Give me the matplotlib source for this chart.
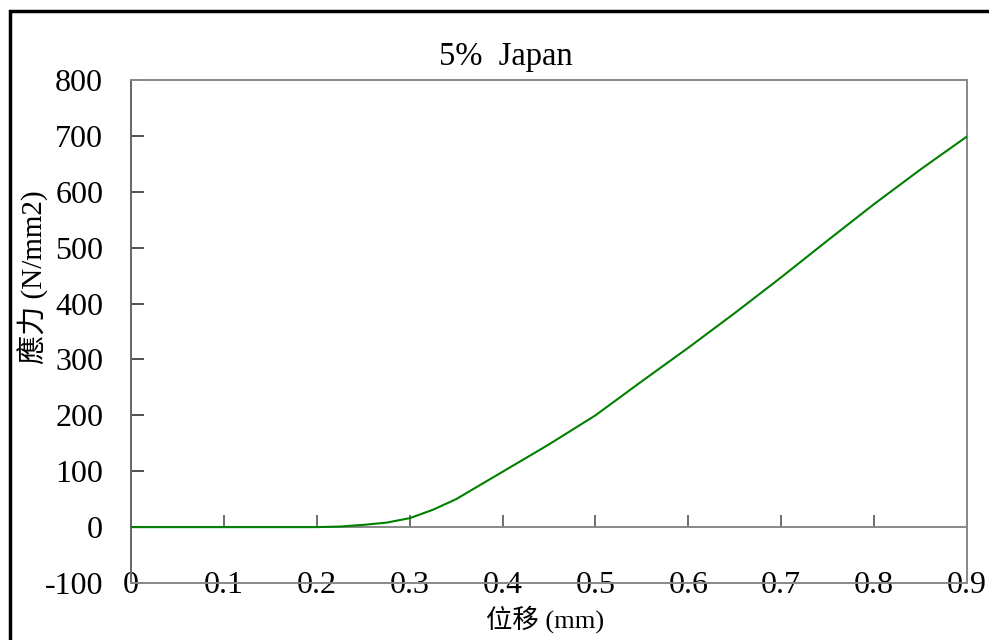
import matplotlib
matplotlib.use("Agg")
import matplotlib.pyplot as plt
from matplotlib.patches import Rectangle

# Displacement (mm) and stress (N/mm2)
displacement = [0.0, 0.05, 0.1, 0.15, 0.2, 0.225, 0.25, 0.275, 0.3, 0.325, 0.35,
                0.4, 0.45, 0.5, 0.55, 0.6, 0.65, 0.7, 0.75, 0.8, 0.85, 0.9]
stress = [0, 0, 0, 0, 0, 1, 4, 8, 16, 31, 50,
          99, 148, 200, 261, 321, 383, 447, 513, 578, 640, 699]

x_ticks = [0, 0.1, 0.2, 0.3, 0.4, 0.5, 0.6, 0.7, 0.8, 0.9]
x_tick_labels = ["0", "0.1", "0.2", "0.3", "0.4", "0.5", "0.6", "0.7", "0.8", "0.9"]
y_ticks = [-100, 0, 100, 200, 300, 400, 500, 600, 700, 800]

title = "5%  Japan"
x_label = "位移 (mm)"
y_label = "應力 (N/mm2)"

FONTS = ["Liberation Serif", "Noto Sans CJK TC"]
plt.rcParams["font.family"] = FONTS

W, H = 989, 640
fig = plt.figure(figsize=(W / 100, H / 100), dpi=100)
ax = fig.add_axes([131 / W, 1 - 583 / H, (967 - 131) / W, (583 - 80) / H])

GRAY = "#888888"

ax.plot(displacement, stress, color="#008000", lw=1.5, zorder=3)

ax.set_xlim(0, 0.9)
ax.set_ylim(-100, 800)

for side in ["top", "right", "bottom", "left"]:
    ax.spines[side].set_color(GRAY)
    ax.spines[side].set_linewidth(1.4)
ax.spines["left"].set_color("#666666")

ax.set_yticks(y_ticks)
ax.set_yticklabels([str(v) for v in y_ticks])
ax.tick_params(axis="y", direction="in", length=9, width=1.2, color="#333333",
               pad=20, labelsize=23)

ax.set_xticks(x_ticks)
ax.set_xticklabels(x_tick_labels)
ax.tick_params(axis="x", length=0, pad=-8.5, labelsize=23)

# horizontal axis line through zero with upward tick marks
sec = ax.secondary_xaxis(0, transform=ax.transData)
sec.set_xticks(x_ticks)
sec.tick_params(axis="x", direction="in", length=9, width=1.2, color="#555555",
                labelbottom=False, labeltop=False)
sec.spines["bottom"].set_color(GRAY)
sec.spines["bottom"].set_linewidth(1.4)

fig.text(506 / W, 1 - 57 / H, title, ha="center", va="center", fontsize=23.5)
fig.text(545 / W, 1 - 619 / H, x_label, ha="center", va="center", fontsize=19)
fig.text(33 / W, 1 - 277 / H, y_label, ha="center", va="center", fontsize=21,
         rotation=90)

# outer frame
fig.add_artist(Rectangle((10 / W, -0.5), 2.0, 0.5 + 1 - 11 / H,
                         transform=fig.transFigure, fill=False,
                         edgecolor="black", lw=2.5))

fig.savefig("out.png", dpi=100, facecolor="white")
